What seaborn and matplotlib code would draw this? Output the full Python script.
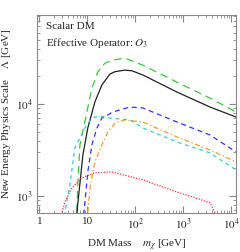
import matplotlib
matplotlib.use("Agg")
import matplotlib.pyplot as plt
import numpy as np
import pandas as pd
import seaborn as sns

# curves (DM mass in GeV, Lambda in GeV)
black_m = [5.6, 8.06, 10.2, 14.3, 20.0, 29.4, 37.4, 60.4, 85.0, 143, 732, 3570, 12400]
black_l = [450, 2790, 5480, 10500, 16100, 21200, 22500, 23400, 23000, 20700, 13500, 9270, 7220]

green_m = [5.9, 6.3, 6.98, 9.77, 12.4, 16.5, 23.2, 34.0, 60.4, 143, 732, 3570, 12400]
green_l = [500, 1300, 3580, 8190, 14900, 22300, 27900, 30100, 31600, 26500, 17300, 11600, 8190]

blue_m = [8.2, 8.46, 10.2, 12.4, 15.8, 20.0, 26.7, 34.0, 76.8, 143, 732, 3570, 12400]
blue_l = [500, 653, 1820, 3580, 5480, 7040, 7590, 8190, 9270, 9050, 6370, 4600, 3010]

orange_m = [9.9, 10.2, 11.3, 14.3, 20.0, 26.7, 37.4, 60.4, 143, 732, 3570, 12400]
orange_l = [500, 653, 1220, 2340, 3580, 4960, 6210, 6700, 6370, 4380, 3160, 2340]

cyan_m = [3.2, 3.40, 4.32, 4.99, 5.49, 8.87, 12.4, 18.2, 29.4, 76.8, 143, 732, 3570, 12400]
cyan_l = [500, 653, 1320, 2340, 3320, 5480, 7040, 7400, 7040, 6700, 5480, 3860, 2930, 1920]

red_m = [2.8, 2.94, 3.40, 4.75, 7.68, 14.3, 32.4, 143, 732, 3570, 4530, 12400]
red_l = [580, 653, 860, 1220, 1570, 1780, 1820, 1490, 1100, 840, 653, 480]

sns.set_style("ticks")
plt.rcParams["font.family"] = ["Liberation Serif", "DejaVu Serif"]
plt.rcParams["mathtext.fontset"] = "stix"

fig = plt.figure(figsize=(2.4, 2.52), dpi=100)
ax = fig.add_axes([0.154, 0.155, 0.829, 0.785])

curves = [
	(green_m, green_l, "#33cc33", (0, (6, 4))),
	(black_m, black_l, "#222222", "-"),
	(blue_m, blue_l, "#3333ff", (0, (4, 3))),
	(orange_m, orange_l, "#ff9933", (0, (4, 2, 1, 2))),
	(cyan_m, cyan_l, "#33cccc", (0, (3, 3))),
	(red_m, red_l, "#ff3333", (0, (1, 1.2))),
]
for m, l, c, ls in curves:
	df = pd.DataFrame({"m": m, "l": l})
	sns.lineplot(data=df, x="m", y="l", color=c, linestyle=ls, linewidth=0.9,
		sort=False, estimator=None, ax=ax)

ax.set_xscale("log")
ax.set_yscale("log")
ax.set_xlim(0.89, 1.24e4)
ax.set_ylim(650, 9.3e4)

for s in ax.spines.values():
	s.set_color("#888888")
	s.set_linewidth(0.8)
ax.tick_params(which="both", direction="in", top=True, right=True, color="#888888",
	labelsize=8, pad=3)
ax.tick_params(which="major", length=5)
ax.tick_params(which="minor", length=2.5)
ax.set_xticks([1, 10, 100, 1000, 10000])
ax.set_xticklabels(["1", "10", "$10^2$", "$10^3$", "$10^4$"])
ax.set_yticks([1000, 10000])
ax.set_yticklabels(["$10^3$", "$10^4$"])

ax.set_xlabel(r"DM Mass    $m_\chi$ [GeV]", fontsize=8, labelpad=4)
ax.set_ylabel(r"New Energy Physics Scale    $\Lambda$ [GeV]", fontsize=8, labelpad=2)

ax.text(0.045, 0.94, "Scalar DM", transform=ax.transAxes, fontsize=8, va="center")
ax.text(0.045, 0.86, "Effective Operator: $O_3$", transform=ax.transAxes, fontsize=8, va="center")

fig.savefig("out.png", dpi=100)
